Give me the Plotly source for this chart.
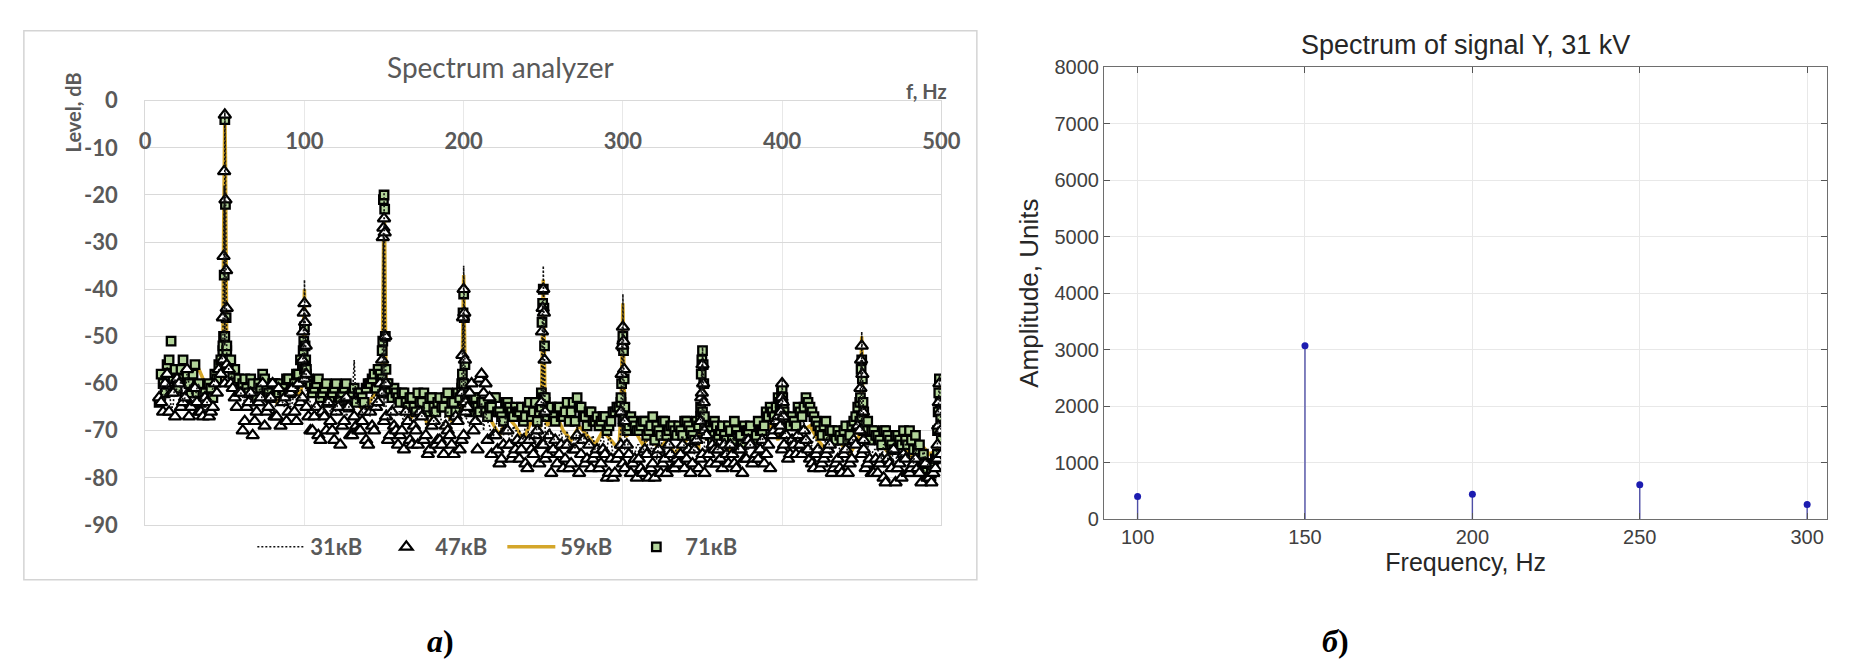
import numpy as np
import plotly.graph_objects as go

# ---------------- Left panel: Spectrum analyzer ----------------
SERIES_NAMES = ["31кВ", "47кВ", "59кВ", "71кВ"]
X_TICKS = [0, 100, 200, 300, 400, 500]
Y_TICKS = [0, -10, -20, -30, -40, -50, -60, -70, -80, -90]

# noise-floor bins (Hz): grid A = 8.75 + 2.5 * i, grid B = 10.0 + 2.5 * i
GRID_A_START = 8.75
GRID_B_START = 10.0
GRID_STEP = 2.5

NOISE_31_A = [
    -62,
    -63, -60, -65, -59, -62, -64, -58, -61, -63, -60,
    -65, -64, -62, -59, -57, -54, -55, -58, -60, -61,
    -63, -61, -64, -60, -62, -65, -61, -63, -66, -62,
    -64, -62, -65, -61, -63, -60, -62, -64, -66, -63,
    -65, -63, -66, -64, -62, -65, -67, -63, -55, -64,
    -66, -64, -67, -63, -61, -62, -65, -67, -64, -66,
    -67, -65, -68, -66, -64, -67, -69, -65, -68, -66,
    -68, -66, -69, -67, -65, -63, -67, -69, -66, -68,
    -64, -66, -69, -71, -68, -70, -67, -72, -69, -70,
    -71, -69, -72, -70, -68, -71, -73, -69, -71, -72,
    -70, -72, -74, -71, -69, -72, -70, -73, -71, -74,
    -72, -74, -71, -75, -73, -70, -74, -72, -75, -73,
    -74, -72, -75, -73, -76, -71, -74, -72, -75, -73,
    -72, -74, -71, -73, -70, -72, -75, -73, -71, -74,
    -73, -71, -74, -72, -75, -73, -71, -74, -72, -73,
    -72, -74, -71, -69, -67, -66, -70, -72, -71, -73,
    -70, -68, -71, -73, -72, -74, -73, -71, -75, -73,
    -74, -72, -75, -73, -70, -67, -71, -73, -75, -74,
    -75, -73, -76, -74, -77, -74, -72, -76, -75, -73,
    -76, -74, -77, -78, -75,
]
NOISE_31_B = [
    -60, -64, -61, -65, -62, -59, -63, -60, -64, -61,
    -63, -66, -64, -61, -58, -56, -52, -57, -59, -62,
    -62, -64, -61, -65, -63, -60, -64, -62, -65, -63,
    -63, -65, -62, -64, -61, -63, -60, -63, -65, -62,
    -64, -66, -63, -65, -67, -64, -62, -66, -64, -65,
    -65, -67, -64, -62, -66, -63, -65, -68, -65, -67,
    -66, -68, -65, -67, -69, -66, -64, -68, -66, -69,
    -67, -69, -66, -68, -65, -67, -64, -68, -69, -67,
    -66, -70, -68, -71, -69, -67, -71, -69, -72, -70,
    -70, -72, -69, -71, -73, -70, -68, -72, -71, -73,
    -71, -73, -70, -72, -74, -71, -73, -70, -72, -74,
    -73, -71, -74, -72, -75, -73, -71, -74, -73, -75,
    -73, -75, -72, -74, -76, -73, -75, -72, -74, -76,
    -73, -71, -74, -72, -75, -73, -71, -74, -72, -73,
    -74, -72, -75, -73, -71, -74, -72, -75, -73, -74,
    -73, -71, -72, -70, -68, -67, -69, -71, -73, -72,
    -71, -69, -72, -74, -71, -73, -75, -72, -74, -73,
    -73, -75, -72, -74, -71, -68, -70, -73, -75, -74,
    -74, -76, -73, -75, -77, -74, -76, -73, -75, -77,
    -75, -77, -76, -78, -76, -74,
]
NOISE_47_A = [
    -63,
    -66, -58, -62, -67, -60, -64, -57, -65, -61, -66,
    -67, -64, -66, -60, -57, -55, -56, -60, -63, -62,
    -70, -65, -62, -68, -64, -60, -66, -63, -67, -61,
    -64, -68, -62, -66, -60, -63, -65, -70, -67, -71,
    -66, -70, -68, -72, -65, -69, -63, -71, -67, -70,
    -68, -72, -66, -70, -64, -62, -67, -71, -69, -73,
    -70, -66, -72, -69, -73, -67, -71, -74, -68, -72,
    -73, -69, -71, -75, -68, -72, -66, -62, -70, -74,
    -58, -60, -63, -71, -74, -76, -70, -73, -75, -72,
    -74, -77, -72, -75, -70, -73, -76, -71, -74, -77,
    -73, -76, -78, -74, -71, -75, -77, -73, -76, -74,
    -77, -75, -79, -80, -76, -73, -78, -75, -77, -80,
    -78, -74, -80, -77, -75, -79, -76, -73, -78, -76,
    -75, -78, -74, -77, -72, -76, -79, -75, -73, -77,
    -76, -73, -77, -75, -78, -74, -76, -72, -77, -75,
    -74, -77, -73, -71, -68, -70, -73, -76, -72, -75,
    -73, -70, -74, -77, -75, -78, -76, -74, -79, -77,
    -78, -75, -79, -76, -73, -70, -74, -77, -79, -76,
    -77, -80, -76, -78, -81, -77, -75, -79, -78, -76,
    -79, -77, -80, -81, -78,
]
NOISE_47_B = [
    -64, -60, -66, -62, -59, -65, -63, -67, -61, -64,
    -66, -63, -67, -65, -62, -58, -60, -57, -61, -65,
    -62, -68, -64, -71, -66, -63, -69, -65, -60, -67,
    -69, -63, -66, -61, -68, -64, -59, -67, -70, -65,
    -72, -67, -64, -70, -66, -73, -68, -65, -71, -69,
    -70, -66, -73, -69, -65, -60, -68, -72, -66, -70,
    -71, -74, -68, -73, -70, -66, -72, -75, -69, -73,
    -72, -75, -70, -73, -67, -74, -71, -65, -60, -68,
    -59, -62, -72, -75, -71, -77, -73, -70, -76, -74,
    -76, -72, -78, -74, -71, -77, -73, -75, -79, -72,
    -75, -78, -73, -77, -74, -79, -72, -76, -78, -75,
    -78, -74, -80, -76, -79, -75, -77, -73, -79, -76,
    -76, -79, -75, -78, -80, -74, -77, -79, -75, -78,
    -77, -73, -76, -79, -74, -78, -75, -71, -77, -74,
    -74, -78, -75, -73, -77, -74, -79, -76, -73, -76,
    -76, -72, -75, -78, -70, -67, -74, -71, -75, -73,
    -71, -75, -72, -76, -78, -74, -77, -75, -73, -78,
    -76, -79, -74, -77, -72, -69, -75, -78, -76, -79,
    -79, -76, -81, -77, -74, -78, -80, -76, -79, -77,
    -78, -81, -77, -80, -79, -76,
]
NOISE_71_A = [
    -64,
    -60, -56, -51, -57, -59, -55, -58, -62, -56, -60,
    -62, -63, -61, -58, -56, -53, -52, -55, -57, -59,
    -60, -61, -59, -62, -60, -58, -61, -63, -60, -62,
    -61, -59, -62, -60, -58, -56, -57, -60, -61, -59,
    -62, -60, -63, -61, -64, -62, -60, -63, -61, -62,
    -63, -61, -60, -58, -57, -59, -60, -62, -61, -63,
    -62, -64, -63, -65, -62, -64, -66, -63, -65, -64,
    -65, -63, -66, -64, -62, -61, -64, -66, -63, -65,
    -64, -66, -65, -63, -66, -67, -64, -65, -67, -66,
    -65, -67, -64, -66, -68, -65, -63, -66, -67, -65,
    -67, -66, -68, -64, -63, -65, -67, -66, -68, -67,
    -68, -67, -69, -66, -65, -64, -67, -69, -68, -70,
    -69, -68, -70, -67, -69, -71, -68, -70, -69, -71,
    -70, -68, -69, -71, -68, -67, -69, -70, -72, -69,
    -70, -71, -69, -72, -70, -71, -69, -70, -72, -71,
    -70, -69, -67, -66, -65, -64, -66, -68, -67, -69,
    -66, -65, -64, -66, -68, -70, -69, -71, -70, -72,
    -71, -70, -72, -69, -67, -64, -66, -68, -70, -71,
    -72, -70, -71, -73, -71, -72, -70, -73, -72, -71,
    -73, -75, -77, -79, -76,
]
NOISE_71_B = [
    -58, -62, -55, -59, -61, -57, -63, -60, -58, -62,
    -64, -62, -60, -63, -59, -55, -50, -56, -58, -60,
    -61, -59, -62, -60, -63, -61, -59, -62, -60, -61,
    -60, -62, -59, -61, -58, -55, -57, -59, -62, -60,
    -63, -61, -64, -62, -60, -63, -61, -65, -62, -64,
    -62, -64, -60, -59, -61, -58, -62, -60, -63, -62,
    -64, -62, -65, -63, -66, -64, -62, -65, -63, -66,
    -63, -65, -62, -64, -66, -63, -60, -64, -65, -63,
    -66, -64, -67, -65, -63, -66, -68, -64, -66, -65,
    -66, -68, -65, -67, -64, -66, -63, -67, -65, -68,
    -65, -67, -64, -66, -68, -65, -67, -69, -66, -68,
    -69, -67, -70, -68, -66, -65, -68, -70, -67, -69,
    -70, -68, -71, -69, -72, -70, -68, -71, -69, -70,
    -69, -71, -68, -70, -72, -69, -66, -70, -71, -68,
    -71, -69, -72, -70, -68, -71, -73, -70, -69, -72,
    -68, -70, -66, -65, -67, -63, -65, -67, -69, -68,
    -65, -67, -63, -65, -67, -69, -71, -68, -70, -72,
    -70, -72, -69, -71, -68, -65, -67, -70, -72, -70,
    -71, -73, -70, -72, -74, -71, -73, -72, -70, -74,
    -74, -76, -78, -80, -77, -75,
]
GOLD_START = 12.5
GOLD_STEP = 5.0
NOISE_59 = [
    -61, -59, -60, -58, -56, -60, -62, -59, -57, -58,
    -62, -60, -63, -61, -64, -62, -60, -63, -59, -62,
    -64, -62, -65, -63, -64, -66, -63, -61, -60, -63,
    -65, -67, -64, -69, -66, -65, -68, -66, -64, -67,
    -66, -68, -71, -67, -69, -72, -68, -70, -69, -66,
    -70, -72, -69, -71, -73, -70, -72, -74, -71, -70,
    -73, -71, -74, -72, -75, -73, -71, -74, -72, -70,
    -72, -74, -71, -73, -72, -70, -69, -72, -70, -68,
    -70, -69, -72, -74, -71, -73, -75, -72, -69, -71,
    -73, -75, -72, -74, -76, -73, -75, -74,
]

# harmonic peaks: bins at harmonic + offset
HARMONICS = [50, 100, 150, 200, 250, 300, 350, 400, 450, 498.8]
BIN_OFFSETS = [-1.2, -0.8, -0.4, 0.0, 0.4, 0.8, 1.2]
PEAK_31 = [
    [-52, -40, -18, -2, -14, -36, -54],
    [-58, -50, -44, -38, -46, -52, -60],
    [-56, -46, -28, -19, -30, -48, -58],
    [-60, -54, -45, -35, -44, -55, -62],
    [-62, -52, -42, -35, -45, -54, -64],
    [-64, -56, -48, -41, -50, -58, -66],
    [-66, -60, -56, -52, -57, -62, -68],
    [-68, -65, -63, -59, -64, -66, -70],
    [-67, -60, -55, -49, -56, -62, -69],
    [-71, -67, -63, -58, -64, -68, -72],
]
PEAK_47 = [
    [-46, -33, -15, -3, -21, -36, -44],
    [-55, -49, -45, -43, -47, -52, -58],
    [-55, -29, -27, -25, -28, -50, -60],
    [-62, -54, -46, -40, -45, -55, -64],
    [-64, -49, -44, -40, -45, -55, -66],
    [-66, -58, -52, -48, -51, -57, -68],
    [-68, -63, -62, -56, -60, -64, -70],
    [-69, -66, -63, -60, -64, -67, -71],
    [-70, -61, -55, -52, -58, -66, -72],
    [-73, -69, -64, -60, -66, -70, -75],
]
PEAK_59 = [
    [-50, -30, -10, -2, -12, -33, -52],
    [-58, -52, -46, -40, -48, -54, -60],
    [-58, -45, -25, -20, -28, -50, -60],
    [-62, -55, -47, -37, -46, -57, -64],
    [-66, -55, -44, -38, -46, -58, -67],
    [-66, -58, -50, -43, -52, -60, -68],
    [-68, -62, -57, -53, -58, -63, -69],
    [-70, -66, -64, -60, -65, -67, -71],
    [-70, -62, -56, -50, -57, -64, -71],
    [-72, -68, -64, -59, -65, -69, -73],
]
PEAK_71 = [
    [-52, -50, -37, -4, -22, -46, -53],
    [-56, -53, -51, -48, -52, -55, -58],
    [-53, -51, -21, -20, -23, -50, -57],
    [-60, -58, -45, -41, -46, -56, -62],
    [-62, -47, -43, -40, -44, -52, -64],
    [-63, -60, -52, -50, -53, -59, -65],
    [-65, -58, -55, -53, -56, -60, -67],
    [-66, -64, -62, -61, -63, -65, -68],
    [-68, -63, -57, -55, -59, -64, -70],
    [-70, -66, -62, -59, -64, -67, -72],
]

# ---------------- Right panel: stem spectrum ----------------
STEM_FREQ = [100, 150, 200, 250, 300]
STEM_AMP = [400, 3070, 440, 610, 260]
R_X_TICKS = [100, 150, 200, 250, 300]
R_Y_TICKS = [0, 1000, 2000, 3000, 4000, 5000, 6000, 7000, 8000]


def series_xy(noise_parts, peaks):
    xs, ys = [], []
    for start, step, noise in noise_parts:
        xs.append(start + step * np.arange(len(noise)))
        ys.append(np.array(noise, dtype=float))
    xs.append(np.array([h + o for h in HARMONICS for o in BIN_OFFSETS]))
    ys.append(np.array([v for row in peaks for v in row], dtype=float))
    x = np.concatenate(xs)
    y = np.concatenate(ys)
    order = np.argsort(x, kind="stable")
    return x[order], y[order]


x31, y31 = series_xy([(GRID_A_START, GRID_STEP, NOISE_31_A),
                      (GRID_B_START, GRID_STEP, NOISE_31_B)], PEAK_31)
x47, y47 = series_xy([(GRID_A_START, GRID_STEP, NOISE_47_A),
                      (GRID_B_START, GRID_STEP, NOISE_47_B)], PEAK_47)
x59, y59 = series_xy([(GOLD_START, GOLD_STEP, NOISE_59)], PEAK_59)
x71, y71 = series_xy([(GRID_A_START, GRID_STEP, NOISE_71_A),
                      (GRID_B_START, GRID_STEP, NOISE_71_B)], PEAK_71)

W, H = 1856, 672


def px_x(v):
    return v / W


def px_y(v):
    return (H - v) / H


LFONT = "Lato"
GRAY = "#595959"

fig = go.Figure()

fig.add_trace(go.Scatter(
    x=x59, y=y59, mode="lines", name=SERIES_NAMES[2], legendrank=3,
    line=dict(color="#D4A62A", width=3.5), xaxis="x", yaxis="y"))
fig.add_trace(go.Scatter(
    x=x71, y=y71, mode="markers", name=SERIES_NAMES[3], legendrank=4,
    marker=dict(symbol="square", size=8.5, color="#b2d49a",
                line=dict(color="black", width=2.3)), xaxis="x", yaxis="y"))
fig.add_trace(go.Scatter(
    x=x47, y=y47, mode="markers", name=SERIES_NAMES[1], legendrank=2,
    marker=dict(symbol="triangle-up", size=11, color="white",
                line=dict(color="black", width=2.2)), xaxis="x", yaxis="y"))
fig.add_trace(go.Scatter(
    x=x31, y=y31, mode="lines", name=SERIES_NAMES[0], legendrank=1,
    line=dict(color="#111111", width=1.6, dash="2px,2px"), xaxis="x", yaxis="y"))
# carrier for the top tick-label axis of the left panel (draws nothing)
fig.add_trace(go.Scatter(x=[X_TICKS[0], X_TICKS[-1]], y=[None, None], mode="markers",
                         showlegend=False, hoverinfo="skip", xaxis="x3", yaxis="y"))

# stems
sx, sy = [], []
for f, a in zip(STEM_FREQ, STEM_AMP):
    sx += [f, f, None]
    sy += [0, a, None]
fig.add_trace(go.Scatter(x=sx, y=sy, mode="lines", showlegend=False,
                         line=dict(color="#4f4fa6", width=1.4),
                         xaxis="x2", yaxis="y2"))
fig.add_trace(go.Scatter(x=STEM_FREQ, y=STEM_AMP, mode="markers", showlegend=False,
                         marker=dict(color="#1c1cb0", size=7),
                         xaxis="x2", yaxis="y2"))

L_X0, L_X1 = 133, 940
L_Y0, L_Y1 = 82, 524
R_X0, R_X1 = 1105, 1838
R_Y0, R_Y1 = 47, 518

fig.update_layout(
    width=W, height=H,
    margin=dict(l=0, r=0, t=0, b=0),
    paper_bgcolor="white", plot_bgcolor="white",
    showlegend=True,
    legend=dict(orientation="h", x=px_x(495), xanchor="center",
                y=px_y(547), yanchor="middle",
                font=dict(family=LFONT, size=22, color=GRAY, weight="bold"),
                bgcolor="rgba(0,0,0,0)", itemwidth=48,
                entrywidth=62, entrywidthmode="pixels"),
    xaxis=dict(domain=[px_x(L_X0), px_x(L_X1)], range=[0, 500], anchor="y",
               tickvals=X_TICKS, showticklabels=False, ticks="",
               showgrid=True, gridcolor="#e8e8e8", gridwidth=1,
               showline=True, mirror=True, linecolor="#d9d9d9", zeroline=False),
    xaxis3=dict(overlaying="x", anchor="free",
                position=px_y(108), side="bottom", range=[0, 500],
                tickvals=X_TICKS, ticktext=[str(v) for v in X_TICKS],
                ticks="", showgrid=False, showline=False, zeroline=False,
                tickfont=dict(family=LFONT, size=22, color=GRAY, weight="bold")),
    yaxis=dict(domain=[px_y(L_Y1), px_y(L_Y0)], range=[-90, 0], anchor="x",
               tickvals=Y_TICKS, ticktext=[str(v) for v in Y_TICKS],
               ticks="", ticklabelstandoff=22,
               showgrid=True, gridcolor="#d9d9d9", zeroline=False,
               showline=True, mirror=True, linecolor="#d9d9d9",
               tickfont=dict(family=LFONT, size=22, color=GRAY, weight="bold")),
    xaxis2=dict(domain=[px_x(R_X0), px_x(R_X1)], range=[90, 306], anchor="y2",
                tickvals=R_X_TICKS, ticks="inside", ticklen=6, tickcolor="#555555",
                showgrid=True, gridcolor="#e8e8e8", zeroline=False,
                showline=True, mirror="ticks", linecolor="#6e6e6e", linewidth=1.3,
                tickfont=dict(family="Liberation Sans", size=20, color="#404040"),
                title=dict(text="Frequency, Hz", standoff=6,
                           font=dict(family="Liberation Sans", size=25, color="#262626"))),
    yaxis2=dict(domain=[px_y(R_Y1), px_y(R_Y0)], range=[0, 8000], anchor="x2",
                tickvals=R_Y_TICKS, ticks="inside", ticklen=6, tickcolor="#555555",
                showgrid=True, gridcolor="#e8e8e8", zeroline=False,
                showline=True, mirror="ticks", linecolor="#6e6e6e", linewidth=1.3,
                tickfont=dict(family="Liberation Sans", size=20, color="#404040"),
                title=dict(text="Amplitude, Units", standoff=8,
                           font=dict(family="Liberation Sans", size=26, color="#262626"))),
    shapes=[dict(type="rect", xref="paper", yref="paper",
                 x0=px_x(10), x1=px_x(976), y0=px_y(581), y1=px_y(9),
                 line=dict(color="#d4d4d4", width=1.5), fillcolor="rgba(0,0,0,0)",
                 layer="below")],
    annotations=[
        dict(text="Spectrum analyzer", xref="paper", yref="paper",
             x=px_x(493), y=px_y(47), xanchor="center", yanchor="middle",
             showarrow=False, font=dict(family=LFONT, size=28, color=GRAY)),
        dict(text="<b>Level, dB</b>", xref="paper", yref="paper",
             x=px_x(60), y=px_y(94), xanchor="center", yanchor="middle",
             textangle=-90, showarrow=False,
             font=dict(family=LFONT, size=20, color=GRAY)),
        dict(text="<b>f, Hz</b>", xref="paper", yref="paper",
             x=px_x(948), y=px_y(72), xanchor="right", yanchor="middle",
             showarrow=False, font=dict(family=LFONT, size=20, color=GRAY)),
        dict(text="Spectrum of signal Y, 31 kV", xref="paper", yref="paper",
             x=px_x((R_X0 + R_X1) / 2), y=px_y(24), xanchor="center", yanchor="middle",
             showarrow=False, font=dict(family="Liberation Sans", size=27, color="#262626")),
        dict(text="<b><i>а</i>)</b>", xref="paper", yref="paper",
             x=px_x(432), y=px_y(645), xanchor="center", yanchor="middle",
             showarrow=False, font=dict(family="Liberation Serif", size=32, color="black")),
        dict(text="<b><i>б</i>)</b>", xref="paper", yref="paper",
             x=px_x(1340), y=px_y(645), xanchor="center", yanchor="middle",
             showarrow=False, font=dict(family="Liberation Serif", size=32, color="black")),
    ],
)

fig.write_html("out.html")
